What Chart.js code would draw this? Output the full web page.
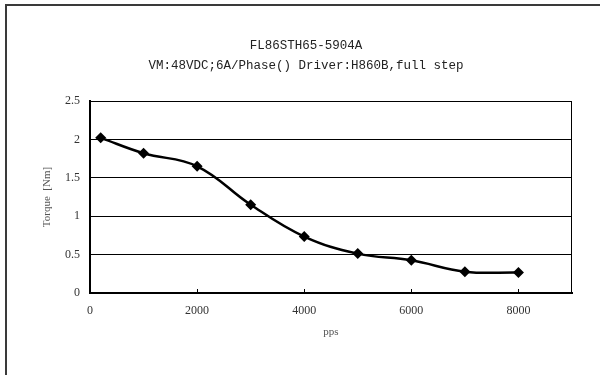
<!DOCTYPE html>
<html>
<head>
<meta charset="utf-8">
<script src="https://cdn.jsdelivr.net/npm/chart.js"></script>
<style>
    html, body {
        margin: 0;
        padding: 0;
        width: 600px;
        height: 375px;
        overflow: hidden;
        background: #fff;
    }
    .frame {
        position: absolute;
        left: 5px;
        top: 4px;
        width: 700px;
        height: 500px;
        border: 2px solid #3a3a3a;
    }
    #chart {
        position: absolute;
        left: 0;
        top: 0;
    }
</style>
</head>
<body>
<div class="frame"></div>
<canvas id="chart" width="600" height="375"></canvas>
<script>
const titleLines = ["FL86STH65-5904A", "VM:48VDC;6A/Phase() Driver:H860B,full step"];
const speedPps = [200, 1000, 2000, 3000, 4000, 5000, 6000, 7000, 8000];
const torqueNm = [2.02, 1.82, 1.65, 1.15, 0.735, 0.513, 0.426, 0.278, 0.266];
const xTicks = [0, 2000, 4000, 6000, 8000];
const yTicks = [0, 0.5, 1, 1.5, 2, 2.5];

const serif = "'Liberation Serif', 'DejaVu Serif', serif";

// thin frame round the plot area
const plotBox = {
    id: "plotBox",
    afterDraw(chart) {
        const { ctx, chartArea: a } = chart;
        ctx.save();
        ctx.strokeStyle = "#000";
        ctx.lineWidth = 1;
        ctx.strokeRect(a.left + 0.5, a.top + 0.5, a.right - a.left - 1, a.bottom - a.top);
        // small inside tick marks on the x axis
        const xs = chart.scales.x;
        ctx.beginPath();
        xTicks.slice(1).forEach(v => {
            const px = Math.round(xs.getPixelForValue(v)) + 0.5;
            ctx.moveTo(px, a.bottom);
            ctx.lineTo(px, a.bottom - 4);
        });
        ctx.stroke();
        ctx.restore();
    }
};

new Chart(document.getElementById("chart"), {
    type: "line",
    data: {
        labels: speedPps,
        datasets: [{
            data: speedPps.map((x, i) => ({ x: x, y: torqueNm[i] })),
            borderColor: "#000",
            backgroundColor: "#000",
            borderWidth: 2.5,
            tension: 0.4,
            pointStyle: "rectRot",
            pointRadius: 5.5,
            pointBorderWidth: 0,
        }]
    },
    options: {
        responsive: false,
        animation: false,
        layout: { padding: { left: 40, right: 28, top: 30, bottom: 0 } },
        plugins: {
            legend: { display: false },
            tooltip: { enabled: false },
            title: {
                display: true,
                text: titleLines,
                color: "#222",
                font: { family: "'Liberation Mono', monospace", size: 12.5, weight: "normal", lineHeight: "20px" },
                padding: { top: 6, bottom: 25 },
            },
        },
        scales: {
            x: {
                type: "linear",
                min: 0,
                max: 9000,
                afterFit: s => { s.height = 82; },
                afterBuildTicks: s => { s.ticks = xTicks.map(v => ({ value: v })); },
                ticks: {
                    includeBounds: false,
                    padding: 11,
                    color: "#333",
                    font: { family: serif, size: 12 },
                    callback: v => String(v),
                },
                grid: { display: false, drawTicks: false },
                border: { display: true, color: "#000", width: 2 },
                title: {
                    display: true,
                    text: "pps",
                    color: "#555",
                    font: { family: serif, size: 11 },
                    padding: { top: 0, bottom: 36 },
                },
            },
            y: {
                min: 0,
                max: 2.5,
                afterFit: s => { s.width = 50; },
                afterBuildTicks: s => { s.ticks = yTicks.map(v => ({ value: v })); },
                ticks: {
                    padding: 10,
                    color: "#333",
                    font: { family: serif, size: 12 },
                    callback: v => String(v),
                },
                grid: { color: "#000", lineWidth: 1, drawTicks: false },
                border: { display: true, color: "#000", width: 2 },
                title: {
                    display: true,
                    text: "Torque  [Nm]",
                    color: "#555",
                    font: { family: serif, size: 11 },
                    padding: { top: 1, bottom: 0 },
                },
            },
        },
    },
    plugins: [plotBox],
});
</script>
</body>
</html>
